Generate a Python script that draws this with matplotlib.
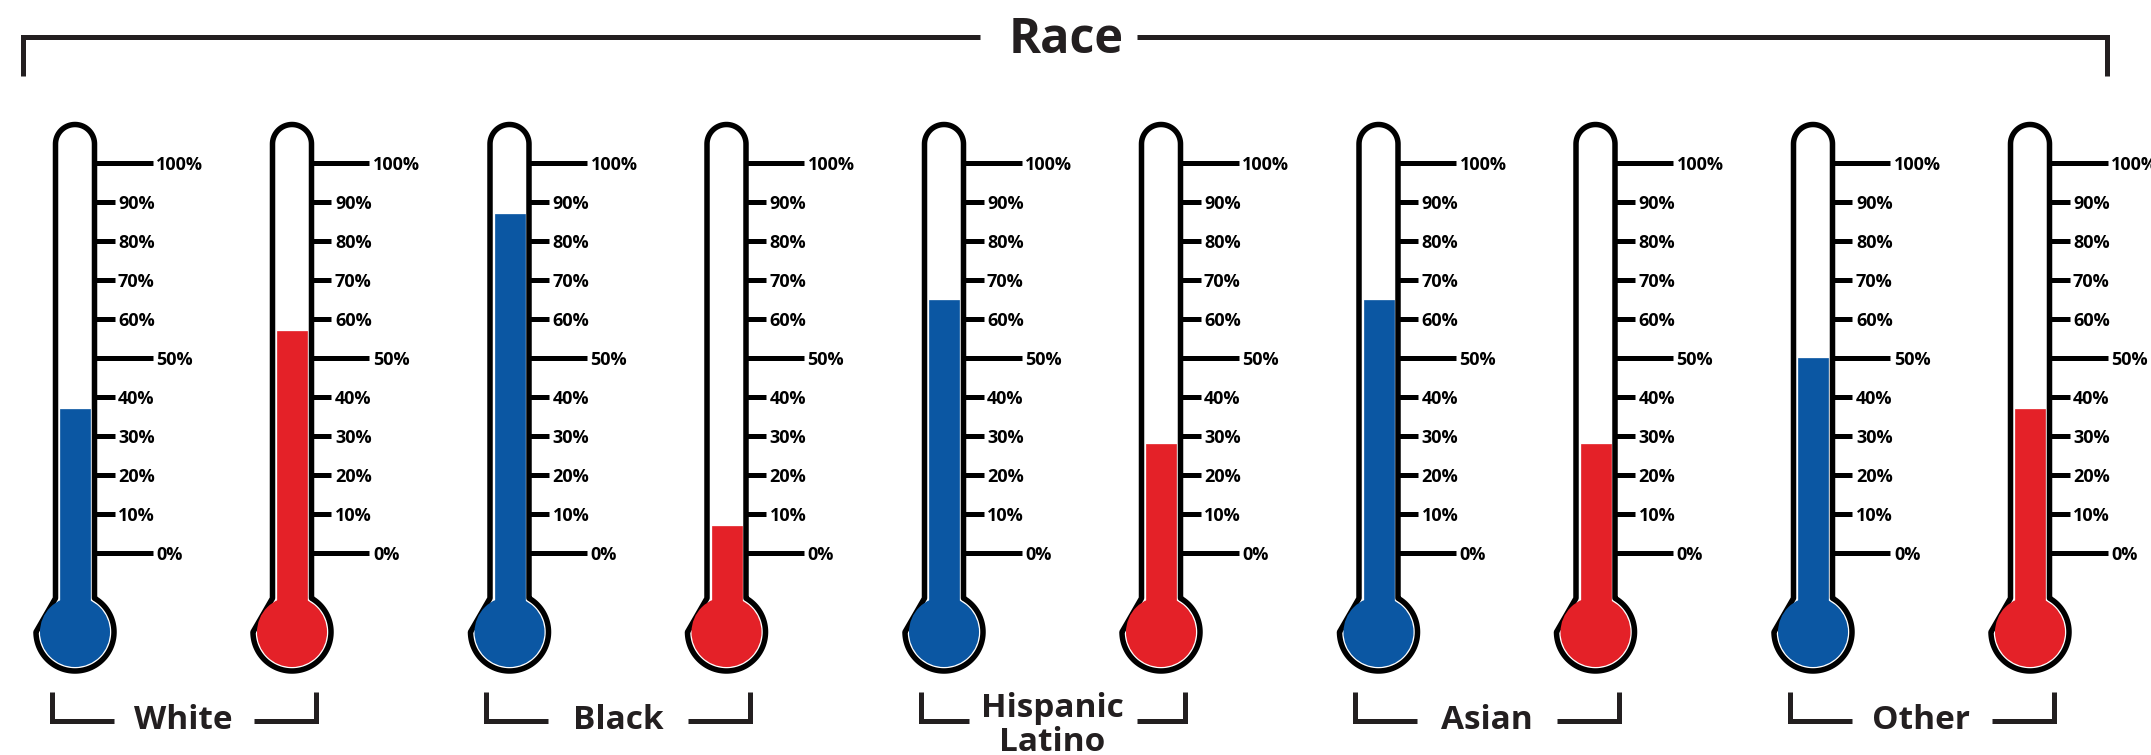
import numpy as np
import matplotlib
matplotlib.use("Agg")
from matplotlib import pyplot as plt
from matplotlib.patches import Polygon, Circle

# share per group: blue thermometer, red thermometer
groups = ["White", "Black", "Hispanic\nLatino", "Asian", "Other"]
blue_pct = [37, 87, 65, 65, 50]
red_pct = [57, 7, 28, 28, 37]
tick_values = [0, 10, 20, 30, 40, 50, 60, 70, 80, 90, 100]
tick_labels = [f"{v}%" for v in tick_values]
header = "Race"

W, H = 2151, 755
DPI = 100
PT = 72 / DPI  # points per pixel

BLUE = "#0b57a3"
RED = "#e42128"
INK = "#231f20"
FONT = ["Open Sans", "DejaVu Sans"]

plt.rcParams["font.family"] = FONT

fig = plt.figure(figsize=(W / DPI, H / DPI), dpi=DPI)
ax = fig.add_axes([0, 0, 1, 1])
ax.set_xlim(0, W)
ax.set_ylim(H, 0)
ax.axis("off")

# geometry in pixels
TOP_C = 144      # centre of the rounded cap
BULB_Y = 632     # centre of the bulb
R_TUBE = 19.5
R_BULB = 39
Y0, Y100 = 553, 163   # 0% and 100% marks


def outline(cx):
    dy = np.sqrt(R_BULB ** 2 - R_TUBE ** 2)
    yj = BULB_Y - dy
    t = np.linspace(np.pi, 0, 40)
    cap = np.column_stack([cx + R_TUBE * np.cos(t), TOP_C - R_TUBE * np.sin(t)])
    a0 = np.arccos(R_TUBE / R_BULB)
    p = np.linspace(a0, a0 - 2 * np.pi + 2 * a0, 120)
    bulb = np.column_stack([cx + R_BULB * np.cos(p), BULB_Y - R_BULB * np.sin(p)])
    pts = np.vstack([[[cx - R_TUBE, yj]], cap, [[cx + R_TUBE, yj]], bulb])
    return pts


def thermometer(cx, value, color):
    ax.add_patch(Polygon(outline(cx), closed=True, facecolor="white",
                         edgecolor="black", lw=5.5 * PT, joinstyle="round"))
    ax.add_patch(Circle((cx, BULB_Y), 35, facecolor=color, edgecolor="none"))

    # the column and scale live in their own axes, 0..100 %
    tax = fig.add_axes([(cx - R_TUBE) / W, 1 - Y0 / H, 2 * R_TUBE / W, (Y0 - Y100) / H])
    tax.set_xlim(-0.5, 0.5)
    tax.set_ylim(0, 100)
    tax.patch.set_visible(False)
    for s in tax.spines.values():
        s.set_visible(False)
    tax.set_xticks([])
    tax.bar(0, value + 15, bottom=-15, width=30 / (2 * R_TUBE), color=color,
            edgecolor=color, lw=0.5, clip_on=False)

    tax.yaxis.tick_right()
    major = [v for v in tick_values if v % 50 == 0]
    minor = [v for v in tick_values if v % 50 != 0]
    tax.set_yticks(major)
    tax.set_yticklabels([tick_labels[tick_values.index(v)] for v in major])
    tax.set_yticks(minor, minor=True)
    tax.set_yticklabels([tick_labels[tick_values.index(v)] for v in minor], minor=True)
    tax.tick_params(axis="y", which="major", length=58 * PT, width=5 * PT,
                    pad=2.5, labelsize=13, color="black")
    tax.tick_params(axis="y", which="minor", length=20 * PT, width=5 * PT,
                    pad=2.5, labelsize=13, color="black")
    for lab in tax.get_yticklabels(which="both"):
        lab.set_fontweight("bold")
        lab.set_family(FONT)


line_kw = dict(color=INK, lw=5 * PT, solid_joinstyle="miter", solid_capstyle="butt")

for g, name in enumerate(groups):
    bx = 75 + 434.5 * g
    rx = bx + 217
    thermometer(bx, blue_pct[g], BLUE)
    thermometer(rx, red_pct[g], RED)

    gc = (bx + rx) / 2
    xl, xr = gc - 132, gc + 132
    lines = name.split("\n")
    arm = 62 if len(lines) == 1 else 48
    ax.plot([xl, xl, xl + arm], [692, 720.5, 720.5], **line_kw)
    ax.plot([xr - arm, xr, xr], [720.5, 720.5, 692], **line_kw)
    base = 729 if len(lines) == 1 else 717
    for i, ln in enumerate(lines):
        ax.text(gc, base + 34 * i, ln, ha="center", va="baseline",
                fontsize=24, fontweight="bold", color=INK)

# header bracket
ax.plot([22.5, 22.5, 980], [76, 36.5, 36.5], **line_kw)
ax.plot([1137, 2107, 2107], [36.5, 36.5, 76], **line_kw)
ax.text(1066, 53, header, ha="center", va="baseline", fontsize=35,
        fontweight="bold", color=INK)

fig.savefig("out.png", dpi=DPI)
